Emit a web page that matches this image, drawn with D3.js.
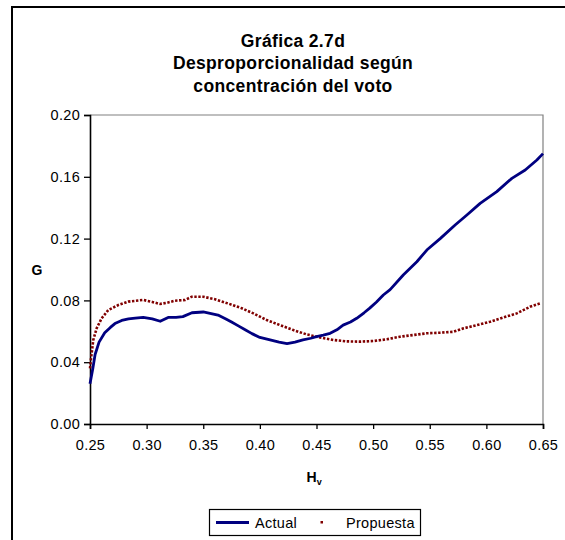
<!DOCTYPE html>
<html><head><meta charset="utf-8">
<script src="https://cdn.jsdelivr.net/npm/d3@7"></script>
<style>html,body{margin:0;padding:0;background:#fff;}svg{display:block;font-family:"Liberation Sans",Arial,sans-serif;}</style>
</head><body>
<svg id="c" width="565" height="540"></svg>
<script>
const titleLines = ["Gráfica 2.7d", "Desproporcionalidad según", "concentración del voto"];
const xTicks = [0.25,0.30,0.35,0.40,0.45,0.50,0.55,0.60,0.65];
const yTicks = [0.00,0.04,0.08,0.12,0.16,0.20];
const seriesNames = ["Actual", "Propuesta"];

const actualH = [0.250,0.2525,0.2545,0.258,0.263,0.268,0.272,0.278,0.284,0.290,0.297,0.305,0.312,0.319,0.326,0.332,0.340,0.350,0.357,0.363,0.370,0.375,0.381,0.387,0.393,0.400,0.409,0.417,0.424,0.431,0.438,0.445,0.450,0.456,0.462,0.468,0.4735,0.480,0.4855,0.492,0.497,0.503,0.509,0.515,0.5266,0.5386,0.5474,0.5592,0.5724,0.5828,0.5945,0.6092,0.6225,0.6343,0.6446,0.650];
const actualG = [0.026,0.036,0.045,0.053,0.059,0.0625,0.065,0.067,0.068,0.0685,0.069,0.068,0.0665,0.069,0.069,0.0695,0.072,0.0725,0.0715,0.0705,0.068,0.066,0.0635,0.061,0.0585,0.056,0.0544,0.053,0.052,0.053,0.0544,0.0555,0.0565,0.0575,0.0587,0.061,0.064,0.066,0.0684,0.072,0.075,0.079,0.0835,0.087,0.0964,0.105,0.1126,0.120,0.1288,0.1353,0.1428,0.1504,0.159,0.1644,0.1709,0.175];

const propH = [0.250,0.251,0.2529,0.2559,0.2603,0.2662,0.275,0.2838,0.297,0.305,0.3118,0.318,0.325,0.334,0.3398,0.350,0.3604,0.372,0.384,0.3943,0.406,0.4178,0.4296,0.4413,0.4531,0.4649,0.4767,0.4885,0.5002,0.512,0.5237,0.5355,0.5474,0.5592,0.571,0.5798,0.5916,0.6033,0.6151,0.6269,0.6386,0.6474];
const propG = [0.036,0.043,0.0544,0.062,0.0684,0.0738,0.077,0.0792,0.0803,0.079,0.0777,0.0785,0.0798,0.0803,0.0824,0.0824,0.0807,0.078,0.0749,0.0716,0.0673,0.064,0.0608,0.058,0.056,0.0544,0.0535,0.0533,0.0537,0.0548,0.0565,0.0576,0.0587,0.0591,0.0597,0.0619,0.064,0.0662,0.069,0.0716,0.0759,0.078];

const svg = d3.select("#c");
const L = 90, R = 543, T = 115, B = 424;
const x = d3.scaleLinear().domain([0.25,0.65]).range([L,R]);
const y = d3.scaleLinear().domain([0,0.20]).range([B,T]);
const FONT = "Liberation Sans, Arial, sans-serif";

// outer chart border
svg.append("rect").attr("x",12).attr("y",7).attr("width",600).attr("height",600)
  .attr("fill","#fff").attr("stroke","#000").attr("stroke-width",2);

// title
const tt = svg.append("text").attr("text-anchor","middle").attr("font-weight","bold")
  .attr("font-size",17.5).attr("letter-spacing",0.35).attr("fill","#000");
titleLines.forEach((t,i)=>tt.append("tspan").attr("x",293).attr("y",46.7+i*22.5).text(t));

// plot area frame (grey top/right)
svg.append("path").attr("d",`M${L},${T}H${R}V${B}`).attr("fill","none").attr("stroke","#808080").attr("stroke-width",1.2);

// axes
const xa = svg.append("g").attr("transform",`translate(0,${B})`)
  .call(d3.axisBottom(x).tickValues(xTicks).tickFormat(d3.format(".2f")).tickSize(5).tickPadding(11));
const ya = svg.append("g").attr("transform",`translate(${L},0)`)
  .call(d3.axisLeft(y).tickValues(yTicks).tickFormat(d3.format(".2f")).tickSize(6).tickPadding(4));
[xa,ya].forEach(g=>{
  g.select(".domain").attr("stroke","#000").attr("stroke-width",1.6);
  g.selectAll(".tick line").attr("stroke","#000").attr("stroke-width",1.3);
  g.selectAll(".tick text").attr("font-family",FONT).attr("font-size",14.5).attr("letter-spacing",0.3).attr("fill","#000");
});

// axis titles
svg.append("text").attr("x",37).attr("y",275).attr("text-anchor","middle").attr("font-weight","bold").attr("font-size",14).text("G");
const xt = svg.append("text").attr("x",306.5).attr("y",482).attr("font-weight","bold").attr("font-size",14);
xt.append("tspan").text("H");
xt.append("tspan").attr("font-size",9).attr("dy",3).text("v");

// series
const line = d3.line().x(d=>x(d[0])).y(d=>y(d[1]));
const actual = actualH.map((h,i)=>[h,actualG[i]]);
const prop = propH.map((h,i)=>[h,propG[i]]);
svg.append("path").datum(prop).attr("d",line).attr("fill","none").attr("stroke","#800000")
  .attr("stroke-width",2.6).attr("stroke-dasharray","2.4 1.6");
svg.append("path").datum(actual).attr("d",line).attr("fill","none").attr("stroke","#000080")
  .attr("stroke-width",2.8).attr("stroke-linejoin","round");

// legend
svg.append("rect").attr("x",209.5).attr("y",509.5).attr("width",211).attr("height",26).attr("fill","#fff").attr("stroke","#000").attr("stroke-width",1.2);
svg.append("line").attr("x1",216).attr("x2",249).attr("y1",522.5).attr("y2",522.5).attr("stroke","#000080").attr("stroke-width",2.8);
svg.append("text").attr("x",255).attr("y",527.5).attr("font-size",14.5).attr("letter-spacing",0.3).text(seriesNames[0]);
svg.append("rect").attr("x",320.5).attr("y",521).attr("width",2.5).attr("height",2.5).attr("fill","#800000");
svg.append("text").attr("x",346).attr("y",527.5).attr("font-size",14.5).attr("letter-spacing",0.3).text(seriesNames[1]);
</script>
</body></html>
